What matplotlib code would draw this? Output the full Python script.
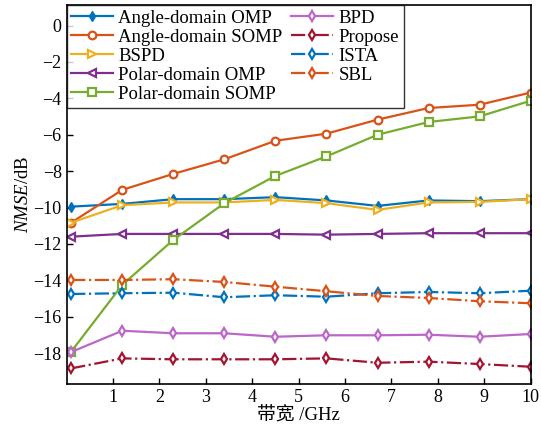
import matplotlib
matplotlib.use("Agg")
import matplotlib.pyplot as plt

plt.rcParams['font.family'] = ['Liberation Serif', 'Noto Sans CJK SC']
plt.rcParams['mathtext.fontset'] = 'custom'
plt.rcParams['mathtext.it'] = 'Liberation Serif:italic'
plt.rcParams['mathtext.rm'] = 'Liberation Serif'

# bandwidth (GHz)
bw = [0.1, 1.2, 2.3, 3.4, 4.5, 5.6, 6.7, 7.8, 8.9, 10.0]

angle_omp = [-9.95, -9.80, -9.54, -9.54, -9.43, -9.61, -9.91, -9.61, -9.65, -9.54]
angle_somp = [-10.83, -9.03, -8.15, -7.35, -6.33, -5.94, -5.17, -4.53, -4.35, -3.68]
bspd = [-10.83, -9.87, -9.72, -9.72, -9.58, -9.76, -10.13, -9.72, -9.69, -9.54]
polar_omp = [-11.6, -11.45, -11.45, -11.45, -11.45, -11.49, -11.45, -11.41, -11.41, -11.41]
polar_somp = [-17.92, -14.25, -11.78, -9.76, -8.26, -7.19, -6.0, -5.3, -4.99, -4.13]
bpd = [-17.94, -16.77, -16.91, -16.91, -17.1, -17.02, -17.02, -16.99, -17.1, -16.95]
propose = [-18.84, -18.29, -18.34, -18.34, -18.34, -18.29, -18.53, -18.47, -18.6, -18.75]
ista = [-14.75, -14.71, -14.68, -14.93, -14.82, -14.9, -14.71, -14.64, -14.71, -14.57]
sbl = [-13.98, -13.98, -13.94, -14.09, -14.35, -14.6, -14.86, -14.97, -15.15, -15.26]

fig = plt.figure(figsize=(5.41, 4.32), dpi=100)
ax = fig.add_axes((0.123, 0.111, 0.858, 0.877))

lw = 1.6
ms = 5.5
ax.plot(bw, angle_omp, '-', marker='d', color='#0072BD', lw=lw, ms=ms,
        mfc='#0072BD', label='Angle-domain OMP')
ax.plot(bw, angle_somp, '-', marker='o', color='#D95319', lw=lw, ms=ms,
        mfc='white', mew=1.6, label='Angle-domain SOMP')
ax.plot(bw, bspd, '-', marker='>', color='#EDB120', lw=lw, ms=ms,
        mfc='white', mew=1.6, label='BSPD')
ax.plot(bw, polar_omp, '-', marker='<', color='#7E2F8E', lw=lw, ms=ms,
        mfc='white', mew=1.6, label='Polar-domain OMP')
ax.plot(bw, polar_somp, '-', marker='s', color='#77AC30', lw=lw, ms=ms,
        mfc='white', mew=1.6, label='Polar-domain SOMP')
ax.plot(bw, bpd, '-', marker='d', color='#BB66C8', lw=lw, ms=ms,
        mfc='white', mew=1.6, label='BPD')
ax.plot(bw, propose, '-.', marker='d', color='#A2142F', lw=lw, ms=ms,
        mfc='white', mew=1.6, label='Propose')
ax.plot(bw, ista, '-.', marker='d', color='#0072BD', lw=lw, ms=ms,
        mfc='white', mew=1.6, label='ISTA')
ax.plot(bw, sbl, '-.', marker='d', color='#D95319', lw=lw, ms=ms,
        mfc='white', mew=1.6, label='SBL')

ax.set_xlim(0, 10)
ax.set_ylim(-19.7, 1.12)
ax.set_xticks(range(1, 11))
ax.set_yticks(range(-18, 1, 2))
ax.tick_params(direction='in', length=4, width=1, labelsize=13)
for s in ax.spines.values():
    s.set_linewidth(1.2)

ax.set_xlabel('带宽 /GHz', fontsize=13.5, labelpad=0)
ax.set_ylabel(r'$NMSE$/dB', fontsize=13.5, labelpad=1)

leg = ax.legend(loc='upper left', ncol=2, fontsize=13.5, frameon=True,
                fancybox=False, edgecolor='black', borderaxespad=0,
                handlelength=2.25, handletextpad=0.27, columnspacing=0.45,
                labelspacing=0.1, borderpad=0.25)
leg.get_frame().set_linewidth(1.0)

fig.savefig('out.png', dpi=100)
